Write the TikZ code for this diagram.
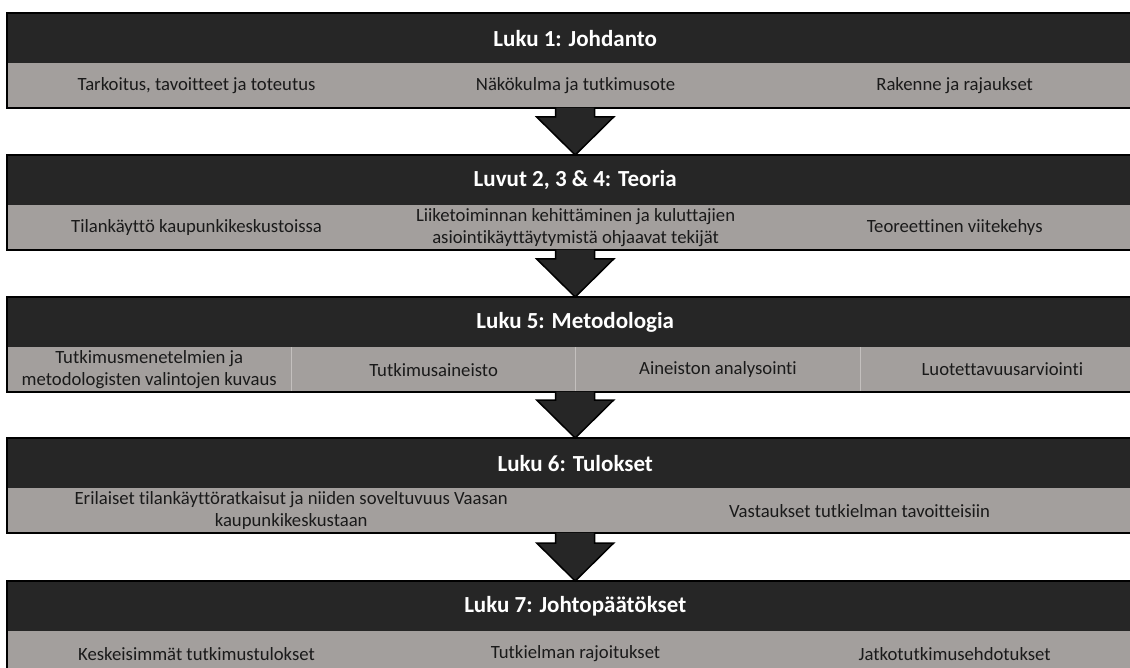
\documentclass[tikz,border=0pt]{standalone}
\usepackage{fontspec}
\setmainfont{Carlito}[Ligatures=NoCommon]
\usetikzlibrary{fit,calc,backgrounds}
\definecolor{hdrc}{HTML}{262626}
\definecolor{cellc}{HTML}{A39F9D}
\definecolor{sepc}{HTML}{C4C0BE}
\definecolor{txtc}{HTML}{1A1A1A}
\begin{document}
\begin{tikzpicture}[x=1pt,y=-1pt,
  hdr/.style={rectangle, fill=hdrc, text=white, inner sep=0,
    font=\bfseries\fontsize{23}{26}\selectfont,
    minimum width=1136, minimum height=50, anchor=north west},
  cell/.style={rectangle, text=txtc, inner sep=0, align=center,
    font=\fontsize{18.7}{21.5}\selectfont,
    minimum height=44, anchor=north west},
  cell3/.style={cell, minimum width=378.67},
  cell4/.style={cell, minimum width=284},
  cell2/.style={cell, minimum width=568},
  frame/.style={draw=black, line width=1.6pt, inner sep=0},
  sep/.style={draw=sepc, line width=1pt},
  rowfill/.style={fill=cellc},
  blockarrow/.style={fill=hdrc, draw=black, line width=1.5pt, line join=miter}]
\useasboundingbox (0,0) rectangle (1130,668);
\clip (0,0) rectangle (1130,668);

% Chapter 1
\node[hdr] (h1) at (7,13) {Luku 1: Johdanto};
\node[cell3] (c1a) at (h1.south west) {Tarkoitus, tavoitteet ja toteutus};
\node[cell3] (c1b) at (c1a.north east) {Näkökulma ja tutkimusote};
\node[cell3] (c1c) at (c1b.north east) {Rakenne ja rajaukset};
\node[frame, fit=(h1)(c1a)(c1c)] (f1) {};

% Chapters 2-4
\node[hdr] (h2) at (7,155) {Luvut 2, 3 \& 4: Teoria};
\node[cell3] (c2a) at (h2.south west) {Tilankäyttö kaupunkikeskustoissa};
\node[cell3] (c2b) at (c2a.north east) {Liiketoiminnan kehittäminen ja kuluttajien\\asiointikäyttäytymistä ohjaavat tekijät};
\node[cell3] (c2c) at (c2b.north east) {Teoreettinen viitekehys};
\node[frame, fit=(h2)(c2a)(c2c)] (f2) {};

% Chapter 5
\node[hdr] (h3) at (7,297) {Luku 5: Metodologia};
\node[cell4] (c3a) at (h3.south west) {Tutkimusmenetelmien ja\\metodologisten valintojen kuvaus};
\node[cell4] (c3b) at (c3a.north east) {Tutkimusaineisto};
\node[cell4] (c3c) at (c3b.north east) {Aineiston analysointi};
\node[cell4] (c3d) at (c3c.north east) {Luotettavuusarviointi};
\node[frame, fit=(h3)(c3a)(c3d)] (f3) {};

% Chapter 6
\node[hdr] (h4) at (7,438) {Luku 6: Tulokset};
\node[cell2] (c4a) at (h4.south west) {Erilaiset tilankäyttöratkaisut ja niiden soveltuvuus Vaasan\\kaupunkikeskustaan};
\node[cell2] (c4b) at (c4a.north east) {Vastaukset tutkielman tavoitteisiin};
\node[frame, fit=(h4)(c4a)(c4b)] (f4) {};

% Chapter 7
\node[hdr] (h5) at (7,581) {Luku 7: Johtopäätökset};
\node[cell3] (c5a) at (h5.south west) {Keskeisimmät tutkimustulokset};
\node[cell3] (c5b) at (c5a.north east) {Tutkielman rajoitukset};
\node[cell3] (c5c) at (c5b.north east) {Jatkotutkimusehdotukset};
\node[frame, fit=(h5)(c5a)(c5c)] (f5) {};

% Grey sub-topic rows, painted under the text
\begin{scope}[on background layer]
  \fill[white] (0,0) rectangle (1130,668);
  \fill[rowfill] (c1a.north west) rectangle (c1c.south east);
  \fill[rowfill] (c2a.north west) rectangle (c2c.south east);
  \fill[rowfill] (c3a.north west) rectangle (c3d.south east);
  \fill[rowfill] (c4a.north west) rectangle (c4b.south east);
  \fill[rowfill] (c5a.north west) rectangle (c5c.south east);
  \draw[sep] (c3a.north east) -- (c3a.south east);
  \draw[sep] (c3b.north east) -- (c3b.south east);
  \draw[sep] (c3c.north east) -- (c3c.south east);
\end{scope}

% Block arrows between chapters
\foreach \a/\b in {f1/h2, f2/h3, f3/h4, f4/h5}{
  \filldraw[blockarrow] let \p1=(\a.south), \p2=(\b.north) in
    (\x2-19.5pt,\y1+1pt) -- (\x2-19.5pt,\y2+38pt) -- (\x2-38.5pt,\y2+38pt)
    -- (\x2,\y2) -- (\x2+38.5pt,\y2+38pt) -- (\x2+19.5pt,\y2+38pt)
    -- (\x2+19.5pt,\y1+1pt);
}
\end{tikzpicture}
\end{document}
